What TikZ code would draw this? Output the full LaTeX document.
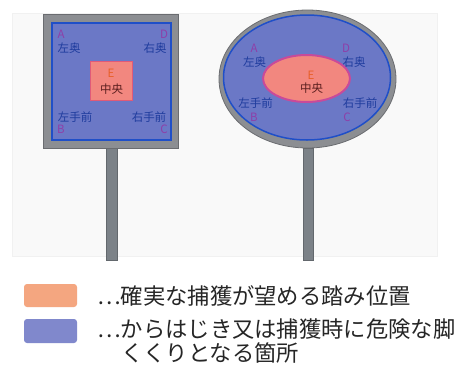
\documentclass[tikz,border=0pt]{standalone}
\usepackage{fontspec}
\setmainfont{Noto Sans CJK JP}
\setsansfont{Noto Sans CJK JP}
\definecolor{panelbg}{HTML}{F9F9F9}
\definecolor{panelln}{HTML}{F1F1F1}
\definecolor{signgray}{HTML}{8C8E92}
\definecolor{signedge}{HTML}{6A6C70}
\definecolor{polegray}{HTML}{7C8288}
\definecolor{zoneblue}{HTML}{6B78C6}
\definecolor{edgeblue}{HTML}{1F4FC8}
\definecolor{zonepink}{HTML}{F2877F}
\definecolor{pinkedge}{HTML}{E05A78}
\definecolor{magedge}{HTML}{C84A9A}
\definecolor{letterpurple}{HTML}{8E3FA8}
\definecolor{labelblue}{HTML}{1F3C9E}
\definecolor{eorange}{HTML}{E8602A}
\definecolor{centerdark}{HTML}{5A1E1E}
\definecolor{legorange}{HTML}{F4A680}
\definecolor{legblue}{HTML}{8088CC}
\tikzset{
  letter/.style={font=\fontsize{11.5}{12}\selectfont, text=letterpurple, inner sep=0pt},
  zonelabel/.style={font=\fontsize{11.5}{12}\selectfont, text=labelblue, inner sep=0pt},
  eletter/.style={font=\fontsize{11.5}{12}\selectfont, text=eorange, inner sep=0pt},
  centerlabel/.style={font=\fontsize{11.5}{12}\selectfont, text=centerdark, inner sep=0pt},
  legendtext/.style={font=\fontsize{22.3}{25}\selectfont, text=black!85, inner sep=0pt, anchor=west},
  swatch/.style={rounded corners=3pt, draw=none},
}
\begin{document}
\begin{tikzpicture}[x=1pt,y=-1pt]
\useasboundingbox (0,0) rectangle (464,365);
\fill[white] (0,0) rectangle (464,365);
% background panel
\filldraw[fill=panelbg, draw=panelln] (12,13) rectangle (437,256);
% poles
\filldraw[fill=polegray, draw=polegray!80!black, line width=0.6pt] (106,148) rectangle (117,260);
\filldraw[fill=polegray, draw=polegray!80!black, line width=0.6pt] (303,148) rectangle (313,260);
% square sign
\filldraw[fill=signgray, draw=signedge, line width=0.8pt] (43,14) rectangle (178,148);
\filldraw[fill=zoneblue, draw=edgeblue, line width=2pt] (52,23) rectangle (171,140);
\filldraw[fill=zonepink, draw=pinkedge, line width=1pt] (90,61) rectangle (132,100);
% oval sign
\filldraw[fill=signgray, draw=signedge, line width=0.8pt] (307.5,79) ellipse [x radius=88.5, y radius=69];
\filldraw[fill=zoneblue, draw=edgeblue, line width=1.5pt] (307,77.5) ellipse [x radius=83.5, y radius=62.5];
\filldraw[fill=zonepink, draw=magedge, line width=2pt] (306.5,78.5) ellipse [x radius=43.5, y radius=23.5];
% square labels
\node[letter] (sA) at (61,34) {A};
\node[zonelabel] (sLB) at (69,48) {左奥};
\node[letter] (sD) at (164,34) {D};
\node[zonelabel] (sRB) at (155,48) {右奥};
\node[eletter] (sE) at (111,73) {E};
\node[centerlabel] (sC0) at (111.5,89) {中央};
\node[zonelabel] (sLF) at (75,117) {左手前};
\node[zonelabel] (sRF) at (149,117) {右手前};
\node[letter] (sB) at (61,129) {B};
\node[letter] (sC) at (164,129) {C};
% oval labels
\node[letter] (oA) at (254,48) {A};
\node[zonelabel] (oLB) at (254.5,62) {左奥};
\node[letter] (oD) at (346,48) {D};
\node[zonelabel] (oRB) at (354,62) {右奥};
\node[eletter] (oE) at (311,75) {E};
\node[centerlabel] (oC0) at (311.5,88) {中央};
\node[zonelabel] (oLF) at (255.5,103) {左手前};
\node[zonelabel] (oRF) at (360,103) {右手前};
\node[letter] (oB) at (254,117) {B};
\node[letter] (oC) at (347,117) {C};
% legend
\fill[swatch, legorange] (24,284) rectangle (77,307);
\fill[swatch, legblue] (24,319) rectangle (77,343);
\node[legendtext] (t1) at (97,296) {…確実な捕獲が望める踏み位置};
\node[legendtext] (t2) at (97,329) {…からはじき又は捕獲時に危険な脚};
\node[legendtext] (t3) at (121,352.5) {くくりとなる箇所};
\end{tikzpicture}
\end{document}
